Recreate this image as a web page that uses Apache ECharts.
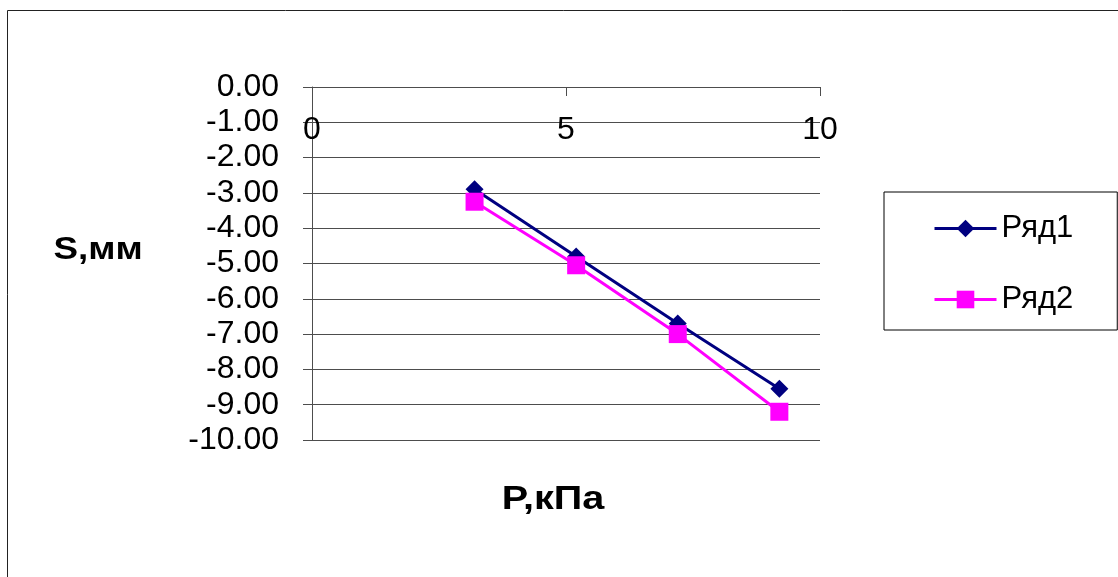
<!DOCTYPE html>
<html>
<head>
<meta charset="utf-8">
<script src="https://cdn.jsdelivr.net/npm/echarts@6/dist/echarts.min.js"></script>
<style>
  html, body { margin: 0; padding: 0; background: #fff; }
  #chart { width: 1118px; height: 577px; }
</style>
</head>
<body>
<div id="chart"></div>
<script>
// Load P (kPa) and settlement S (mm) for the two series
const pressure = [3.2, 5.2, 7.2, 9.2];
const series1 = [-2.9, -4.8, -6.7, -8.55];
const series2 = [-3.25, -5.05, -7.0, -9.2];
const seriesNames = ['Ряд1', 'Ряд2'];
const xTitle = 'P,кПа';
const yTitle = 'S,мм';

const FONT = "'Liberation Sans', Arial, sans-serif";

const pairs = (ys) => pressure.map((x, i) => [x, ys[i]]);

const chart = echarts.init(document.getElementById('chart'), null, { renderer: 'canvas' });

chart.setOption({
  backgroundColor: '#ffffff',
  animation: false,
  textStyle: { fontFamily: FONT },
  grid: { left: 312, right: 298, top: 87, bottom: 137, containLabel: false },
  xAxis: {
    type: 'value',
    position: 'top',
    min: 0,
    max: 10,
    interval: 5,
    axisLine: { show: true, onZero: false, lineStyle: { color: '#4d4d4d', width: 1 } },
    axisTick: { show: true, inside: true, length: 9, lineStyle: { color: '#4d4d4d' } },
    axisLabel: { inside: true, margin: 27, fontSize: 32, color: '#000', fontFamily: FONT },
    splitLine: { show: false }
  },
  yAxis: {
    type: 'value',
    min: -10,
    max: 0,
    interval: 1,
    axisLine: { show: true, onZero: false, lineStyle: { color: '#4d4d4d', width: 1 } },
    axisTick: { show: true, inside: false, length: 9, lineStyle: { color: '#4d4d4d' } },
    axisLabel: {
      margin: 33, fontSize: 32, color: '#000', fontFamily: FONT, lineHeight: 35,
      formatter: (v) => v.toFixed(2)
    },
    splitLine: { show: true, lineStyle: { color: '#4d4d4d', width: 1 } }
  },
  legend: {
    orient: 'vertical',
    left: 884,
    top: 192,
    padding: [21, 44, 15, 49],
    itemGap: 40,
    itemWidth: 62,
    itemHeight: 22,
    borderColor: '#000',
    borderWidth: 1,
    lineStyle: { width: 3 },
    textStyle: { fontSize: 31, color: '#000', fontFamily: FONT, lineHeight: 30 },
    data: seriesNames
  },
  series: [
    {
      name: seriesNames[0],
      type: 'line',
      data: pairs(series1),
      symbol: 'diamond',
      symbolSize: 18,
      itemStyle: { color: '#000080' },
      lineStyle: { color: '#000080', width: 3 },
      z: 2
    },
    {
      name: seriesNames[1],
      type: 'line',
      data: pairs(series2),
      symbol: 'rect',
      symbolSize: 18,
      itemStyle: { color: '#ff00ff' },
      lineStyle: { color: '#ff00ff', width: 3 },
      z: 3
    }
  ],
  graphic: [
    {
      type: 'rect',
      shape: { x: 7.5, y: 10.5, width: 1300, height: 800 },
      style: { fill: 'none', stroke: '#222', lineWidth: 1 },
      silent: true,
      z: -1
    },
    {
      type: 'text',
      x: 98, y: 250,
      scaleX: 1.15,
      style: {
        text: yTitle, fontSize: 32, fontWeight: 'bold', fontFamily: FONT,
        fill: '#000', textAlign: 'center', textVerticalAlign: 'middle'
      }
    },
    {
      type: 'text',
      x: 553, y: 500,
      scaleX: 1.2,
      style: {
        text: xTitle, fontSize: 33, fontWeight: 'bold', fontFamily: FONT,
        fill: '#000', textAlign: 'center', textVerticalAlign: 'middle'
      }
    }
  ]
});
</script>
</body>
</html>
